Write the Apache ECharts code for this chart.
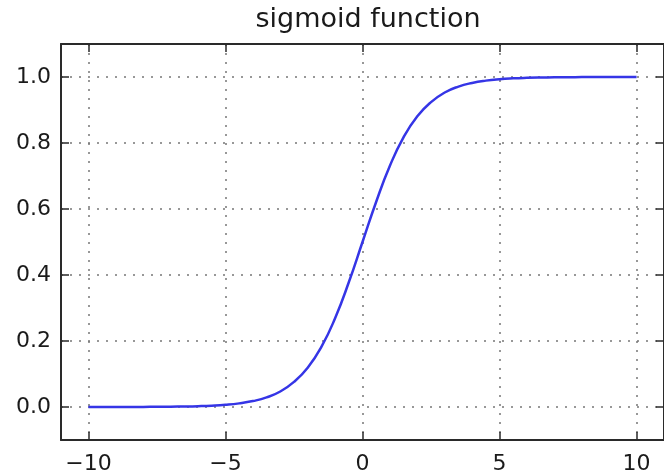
<!DOCTYPE html>
<html>
<head>
<meta charset="utf-8">
<script src="https://cdn.jsdelivr.net/npm/echarts@6/dist/echarts.min.js"></script>
<style>
html,body{margin:0;padding:0;background:#fff;}
#chart{width:664px;height:476px;}
</style>
</head>
<body>
<div id="chart"></div>
<script>
var titleText = 'sigmoid function';
var xValues = [-10,-9.5,-9,-8.5,-8,-7.5,-7,-6.5,-6,-5.5,-5,-4.5,-4,-3.5,-3,-2.5,-2,-1.5,-1,-0.5,0,0.5,1,1.5,2,2.5,3,3.5,4,4.5,5,5.5,6,6.5,7,7.5,8,8.5,9,9.5,10];
var yValues = [0.00005,0.00007,0.00012,0.0002,0.00034,0.00055,0.00091,0.0015,0.0025,0.0041,0.0067,0.011,0.018,0.029,0.047,0.076,0.119,0.182,0.269,0.378,0.5,0.622,0.731,0.818,0.881,0.924,0.953,0.971,0.982,0.989,0.9933,0.9959,0.9975,0.9985,0.9991,0.99945,0.99967,0.9998,0.99988,0.99993,0.99995];
var xTicks = [-10,-5,0,5,10];
var yTicks = [0.0,0.2,0.4,0.6,0.8,1.0];

var data = xValues.map(function(x,i){return [x, yValues[i]];});
var frame = {show:true, onZero:false, lineStyle:{color:'#2a2a2a', width:2}};
var font = 'DejaVu Sans';

var chart = echarts.init(document.getElementById('chart'));
chart.setOption({
  animation:false,
  backgroundColor:'#fff',
  title:{text:titleText, left:363, top:1, textAlign:'center',
    textStyle:{fontFamily:font, fontSize:27, fontWeight:'normal', color:'#1a1a1a'}},
  grid:{left:61, right:-3, top:44, bottom:36, containLabel:false},
  xAxis:[{
    type:'value', min:-11, max:11, position:'bottom',
    axisLine:frame,
    axisTick:{show:true, inside:true, length:8, customValues:xTicks, lineStyle:{color:'#2a2a2a', width:1.5}},
    axisLabel:{show:true, customValues:xTicks, margin:13, fontFamily:font, fontSize:22, color:'#1a1a1a',
      formatter:function(v){return String(v).replace('-', '\u2212');}},
    splitLine:{show:true, lineStyle:{color:'#777', width:1.5, type:[2,7]}}
  },{
    type:'value', min:-11, max:11, position:'top',
    axisLine:frame,
    axisTick:{show:true, inside:true, length:8, customValues:xTicks, lineStyle:{color:'#2a2a2a', width:1.5}},
    axisLabel:{show:false}, splitLine:{show:false}
  }],
  yAxis:[{
    type:'value', min:-0.1, max:1.1, position:'left',
    axisLine:frame,
    axisTick:{show:true, inside:true, length:8, customValues:yTicks, lineStyle:{color:'#2a2a2a', width:1.5}},
    axisLabel:{show:true, customValues:yTicks, margin:10, fontFamily:font, fontSize:22, color:'#1a1a1a',
      formatter:function(v){return v.toFixed(1);}},
    splitLine:{show:true, lineStyle:{color:'#777', width:1.5, type:[2,7]}}
  },{
    type:'value', min:-0.1, max:1.1, position:'right',
    axisLine:frame,
    axisTick:{show:true, inside:true, length:8, customValues:yTicks, lineStyle:{color:'#2a2a2a', width:1.5}},
    axisLabel:{show:false}, splitLine:{show:false}
  }],
  series:[{
    type:'line', data:data, smooth:true, showSymbol:false, symbol:'none',
    xAxisIndex:0, yAxisIndex:0,
    lineStyle:{color:'#3535e6', width:2.5}
  }]
});
</script>
</body>
</html>
